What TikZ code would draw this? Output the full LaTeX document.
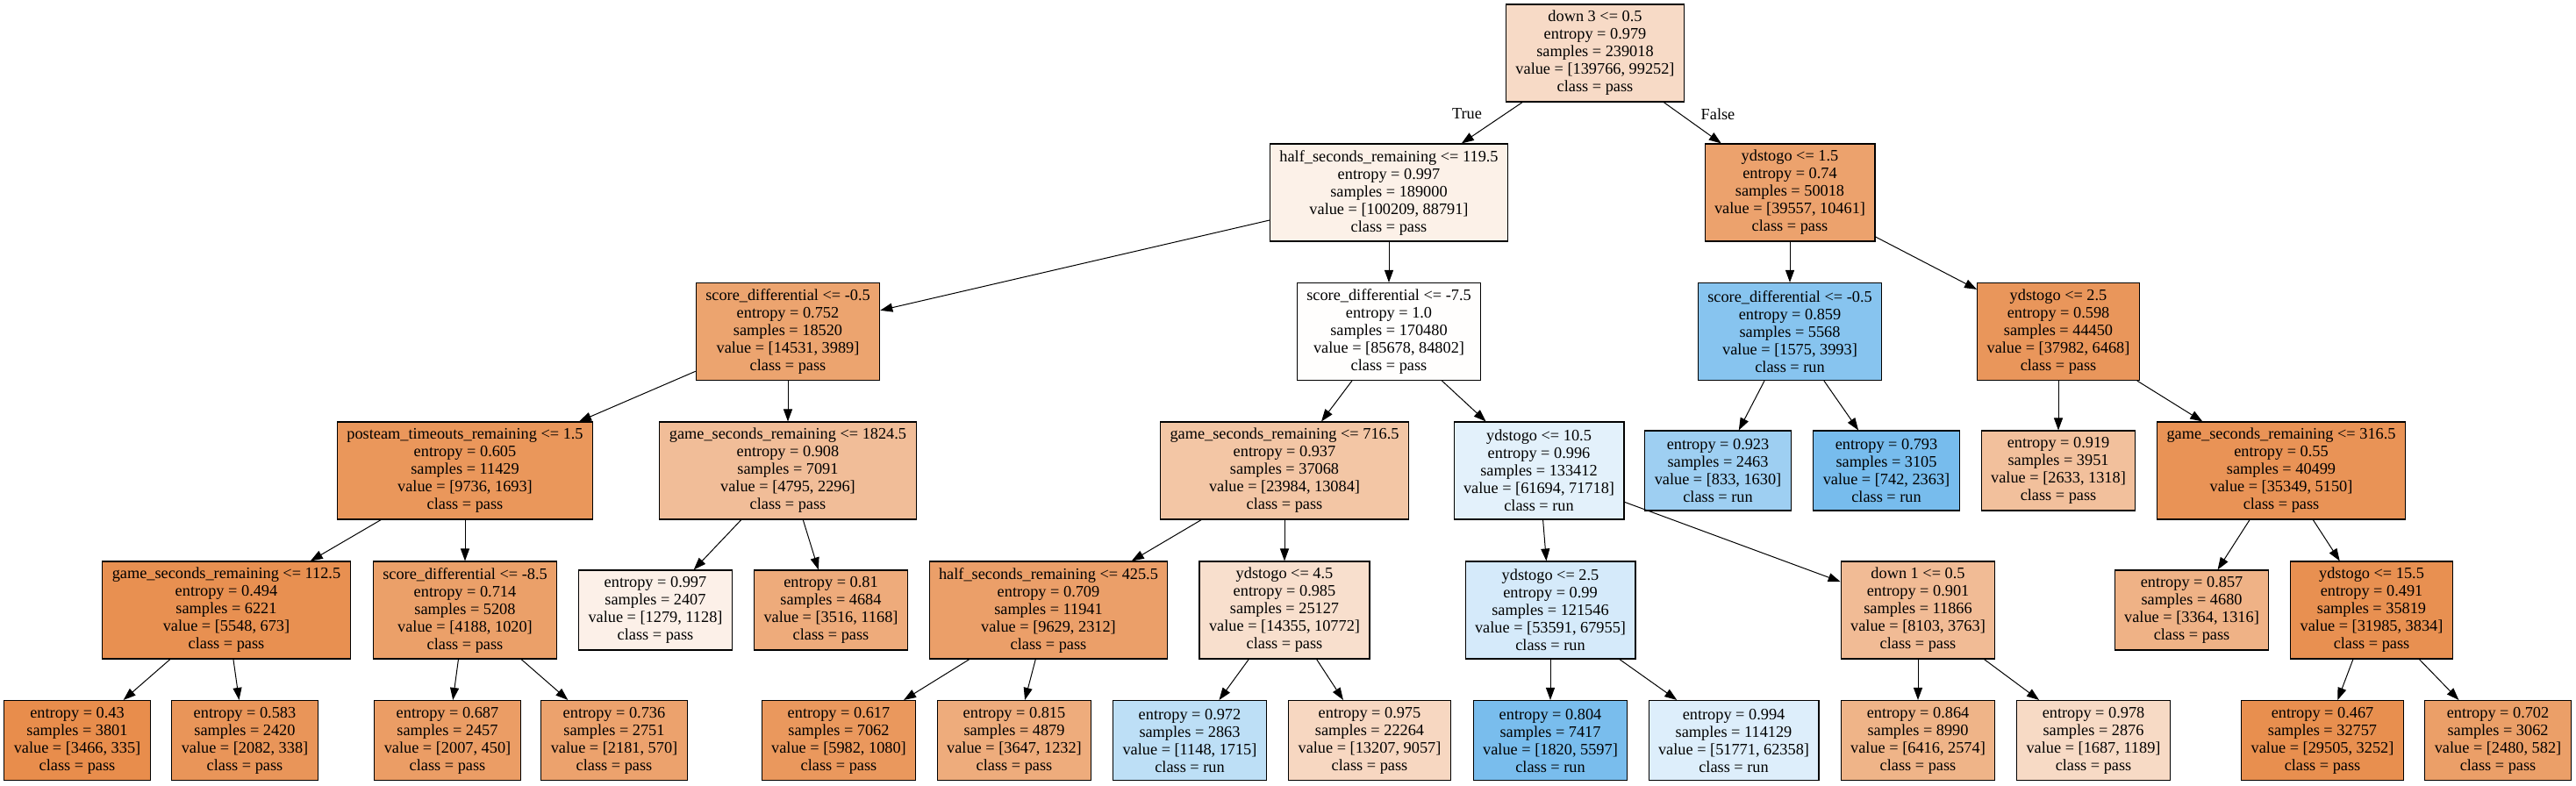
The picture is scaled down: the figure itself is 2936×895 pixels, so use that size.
\documentclass[tikz,border=0pt]{standalone}
\usepackage{fontspec}
\setmainfont{Liberation Serif}
\usetikzlibrary{arrows.meta}
\definecolor{po}{RGB}{229,129,57}
\definecolor{ru}{RGB}{57,157,229}
\tikzset{
  tn/.style={draw=black, line width=1.1pt, rectangle, align=center, inner xsep=11pt, inner ysep=0pt,
    minimum height=111pt, font=\fontsize{18.3pt}{20pt}\selectfont},
  lf/.style={tn, minimum height=91pt},
  cn/.style={line width=1pt, -{Triangle[length=14pt,width=10pt]}},
  lab/.style={inner sep=0pt, font=\fontsize{18.3pt}{20pt}\selectfont},
}
\begin{document}
\begin{tikzpicture}[x=1pt, y=-1pt]
\useasboundingbox[fill=white] (0,0) rectangle (2936,895);
% level 0
\node[tn, fill=po!29!white] (n0) at (1818,60.5) {down 3 <= 0.5\\entropy = 0.979\\samples = 239018\\value = [139766, 99252]\\class = pass};
% level 1
\node[tn, fill=po!11.4!white] (n1) at (1583,219.5) {half\_seconds\_remaining <= 119.5\\entropy = 0.997\\samples = 189000\\value = [100209, 88791]\\class = pass};
\node[tn, fill=po!73.6!white] (n2) at (2040,219.5) {ydstogo <= 1.5\\entropy = 0.74\\samples = 50018\\value = [39557, 10461]\\class = pass};
% level 2
\node[tn, fill=po!72.5!white] (n3) at (898,378) {score\_differential <= -0.5\\entropy = 0.752\\samples = 18520\\value = [14531, 3989]\\class = pass};
\node[tn, fill=po!1!white] (n4) at (1583,378) {score\_differential <= -7.5\\entropy = 1.0\\samples = 170480\\value = [85678, 84802]\\class = pass};
\node[tn, fill=ru!60.6!white] (n5) at (2040,378) {score\_differential <= -0.5\\entropy = 0.859\\samples = 5568\\value = [1575, 3993]\\class = run};
\node[tn, fill=po!83!white] (n6) at (2346,378) {ydstogo <= 2.5\\entropy = 0.598\\samples = 44450\\value = [37982, 6468]\\class = pass};
% level 3
\node[tn, fill=po!82.6!white] (n7) at (530,536.5) {posteam\_timeouts\_remaining <= 1.5\\entropy = 0.605\\samples = 11429\\value = [9736, 1693]\\class = pass};
\node[tn, fill=po!52.1!white] (n8) at (898,536.5) {game\_seconds\_remaining <= 1824.5\\entropy = 0.908\\samples = 7091\\value = [4795, 2296]\\class = pass};
\node[tn, fill=po!45.4!white] (n9) at (1464,536.5) {game\_seconds\_remaining <= 716.5\\entropy = 0.937\\samples = 37068\\value = [23984, 13084]\\class = pass};
\node[tn, fill=ru!14!white] (n10) at (1754,536.5) {ydstogo <= 10.5\\entropy = 0.996\\samples = 133412\\value = [61694, 71718]\\class = run};
\node[lf, fill=ru!48.9!white] (n11) at (1958,536.5) {entropy = 0.923\\samples = 2463\\value = [833, 1630]\\class = run};
\node[lf, fill=ru!68.6!white] (n12) at (2150,536.5) {entropy = 0.793\\samples = 3105\\value = [742, 2363]\\class = run};
\node[lf, fill=po!49.9!white] (n13) at (2346,536.5) {entropy = 0.919\\samples = 3951\\value = [2633, 1318]\\class = pass};
\node[tn, fill=po!85.4!white] (n14) at (2600,536.5) {game\_seconds\_remaining <= 316.5\\entropy = 0.55\\samples = 40499\\value = [35349, 5150]\\class = pass};
% level 4
\node[tn, fill=po!87.9!white] (n15) at (258,695.5) {game\_seconds\_remaining <= 112.5\\entropy = 0.494\\samples = 6221\\value = [5548, 673]\\class = pass};
\node[tn, fill=po!75.6!white] (n16) at (530,695.5) {score\_differential <= -8.5\\entropy = 0.714\\samples = 5208\\value = [4188, 1020]\\class = pass};
\node[lf, fill=po!11.8!white] (n17) at (747,695.5) {entropy = 0.997\\samples = 2407\\value = [1279, 1128]\\class = pass};
\node[lf, fill=po!66.8!white] (n18) at (947,695.5) {entropy = 0.81\\samples = 4684\\value = [3516, 1168]\\class = pass};
\node[tn, fill=po!76!white] (n19) at (1195,695.5) {half\_seconds\_remaining <= 425.5\\entropy = 0.709\\samples = 11941\\value = [9629, 2312]\\class = pass};
\node[tn, fill=po!25!white] (n20) at (1464,695.5) {ydstogo <= 4.5\\entropy = 0.985\\samples = 25127\\value = [14355, 10772]\\class = pass};
\node[tn, fill=ru!21.1!white] (n21) at (1767,695.5) {ydstogo <= 2.5\\entropy = 0.99\\samples = 121546\\value = [53591, 67955]\\class = run};
\node[tn, fill=po!53.6!white] (n22) at (2186,695.5) {down 1 <= 0.5\\entropy = 0.901\\samples = 11866\\value = [8103, 3763]\\class = pass};
\node[lf, fill=po!60.9!white] (n23) at (2498,695.5) {entropy = 0.857\\samples = 4680\\value = [3364, 1316]\\class = pass};
\node[tn, fill=po!88!white] (n24) at (2703,695.5) {ydstogo <= 15.5\\entropy = 0.491\\samples = 35819\\value = [31985, 3834]\\class = pass};
% level 5
\node[lf, fill=po!90.3!white] (n25) at (88,844) {entropy = 0.43\\samples = 3801\\value = [3466, 335]\\class = pass};
\node[lf, fill=po!83.8!white] (n26) at (279,844) {entropy = 0.583\\samples = 2420\\value = [2082, 338]\\class = pass};
\node[lf, fill=po!77.6!white] (n27) at (510,844) {entropy = 0.687\\samples = 2457\\value = [2007, 450]\\class = pass};
\node[lf, fill=po!73.9!white] (n28) at (700,844) {entropy = 0.736\\samples = 2751\\value = [2181, 570]\\class = pass};
\node[lf, fill=po!81.9!white] (n29) at (956,844) {entropy = 0.617\\samples = 7062\\value = [5982, 1080]\\class = pass};
\node[lf, fill=po!66.2!white] (n30) at (1156,844) {entropy = 0.815\\samples = 4879\\value = [3647, 1232]\\class = pass};
\node[lf, fill=ru!33.1!white] (n31) at (1356,844) {entropy = 0.972\\samples = 2863\\value = [1148, 1715]\\class = run};
\node[lf, fill=po!31.4!white] (n32) at (1561,844) {entropy = 0.975\\samples = 22264\\value = [13207, 9057]\\class = pass};
\node[lf, fill=ru!67.5!white] (n33) at (1767,844) {entropy = 0.804\\samples = 7417\\value = [1820, 5597]\\class = run};
\node[lf, fill=ru!17!white] (n34) at (1976,844) {entropy = 0.994\\samples = 114129\\value = [51771, 62358]\\class = run};
\node[lf, fill=po!59.9!white] (n35) at (2186,844) {entropy = 0.864\\samples = 8990\\value = [6416, 2574]\\class = pass};
\node[lf, fill=po!29.5!white] (n36) at (2386,844) {entropy = 0.978\\samples = 2876\\value = [1687, 1189]\\class = pass};
\node[lf, fill=po!89!white] (n37) at (2647,844) {entropy = 0.467\\samples = 32757\\value = [29505, 3252]\\class = pass};
\node[lf, fill=po!76.5!white] (n38) at (2847,844) {entropy = 0.702\\samples = 3062\\value = [2480, 582]\\class = pass};
% labels
\node[lab] (lt) at (1672,130) {True};
\node[lab] (lfa) at (1958,130) {False};
% connectors
\draw[cn] (n0) -- (n1);
\draw[cn] (n0) -- (n2);
\draw[cn] (n1) -- (n3);
\draw[cn] (n1) -- (n4);
\draw[cn] (n2) -- (n5);
\draw[cn] (n2) -- (n6);
\draw[cn] (n3) -- (n7);
\draw[cn] (n3) -- (n8);
\draw[cn] (n4) -- (n9);
\draw[cn] (n4) -- (n10);
\draw[cn] (n5) -- (n11);
\draw[cn] (n5) -- (n12);
\draw[cn] (n6) -- (n13);
\draw[cn] (n6) -- (n14);
\draw[cn] (n7) -- (n15);
\draw[cn] (n7) -- (n16);
\draw[cn] (n8) -- (n17);
\draw[cn] (n8) -- (n18);
\draw[cn] (n9) -- (n19);
\draw[cn] (n9) -- (n20);
\draw[cn] (n10) -- (n21);
\draw[cn] (n10) -- (n22);
\draw[cn] (n14) -- (n23);
\draw[cn] (n14) -- (n24);
\draw[cn] (n15) -- (n25);
\draw[cn] (n15) -- (n26);
\draw[cn] (n16) -- (n27);
\draw[cn] (n16) -- (n28);
\draw[cn] (n19) -- (n29);
\draw[cn] (n19) -- (n30);
\draw[cn] (n20) -- (n31);
\draw[cn] (n20) -- (n32);
\draw[cn] (n21) -- (n33);
\draw[cn] (n21) -- (n34);
\draw[cn] (n22) -- (n35);
\draw[cn] (n22) -- (n36);
\draw[cn] (n24) -- (n37);
\draw[cn] (n24) -- (n38);
\end{tikzpicture}
\end{document}
